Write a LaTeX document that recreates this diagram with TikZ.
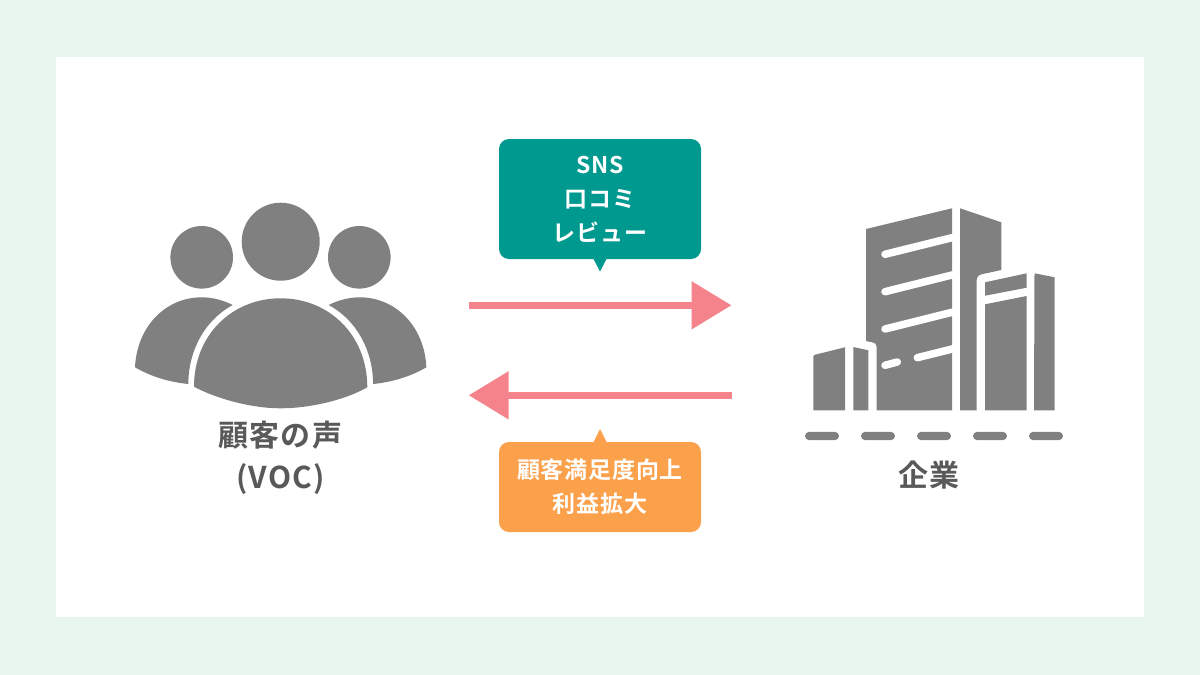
\documentclass[tikz,border=0pt]{standalone}
\usepackage{fontspec}
\usetikzlibrary{arrows.meta}
\newfontfamily\jpfont[LetterSpace=3.5]{Noto Sans CJK JP Bold}
\definecolor{bgmint}{HTML}{E9F6F0}
\definecolor{tealbox}{HTML}{00998F}
\definecolor{orangebox}{HTML}{FBA14B}
\definecolor{pinkarrow}{HTML}{F5838B}
\definecolor{icongrey}{HTML}{808080}
\definecolor{labelgrey}{HTML}{595959}
\tikzset{
  x=1pt,y=-1pt,
  icon/.style={fill=icongrey,draw=none},
  slit/.style={draw=white,line width=7.5pt,line cap=round},
  dashbar/.style={fill=icongrey,draw=none,rounded corners=4.1pt},
  flow/.style={draw=pinkarrow,line width=7.3pt,-{Triangle[length=40pt,width=46.4pt]}},
  bubbletext/.style={text=white,align=center,inner sep=0pt,font=\jpfont\fontsize{23}{34}\selectfont},
  bigtext/.style={text=labelgrey,align=center,inner sep=0pt,font=\jpfont\fontsize{30}{42}\selectfont},
}
\begin{document}
\begin{tikzpicture}
\useasboundingbox (0,0) rectangle (1200,675);
\fill[bgmint] (0,0) rectangle (1200,675);
\fill[white] (56,57) rectangle (1144,617);
% people
\fill[icon] (280.7,241.7) circle[radius=39];
\fill[icon] (201.7,257.3) circle[radius=31.3];
\fill[icon] (359.3,257.3) circle[radius=31.3];
\fill[icon] (194,386.7) .. controls (194,335) and (232,298.3) .. (280.7,298.3)
  .. controls (329,298.3) and (367.3,335) .. (367.3,387.3)
  .. controls (345,400) and (310,408.3) .. (280.7,408.3)
  .. controls (250,408.3) and (215,398) .. (194,386.7) -- cycle;
\fill[icon] (135,367.3) .. controls (137,326) and (166,297.3) .. (201.7,297.3)
  .. controls (213,297.3) and (224,300.5) .. (232.7,305)
  .. controls (205,320) and (188.5,350) .. (188.3,384)
  .. controls (168,382) and (150,376) .. (135,367.3) -- cycle;
\fill[icon] (426.4,367.3) .. controls (424.4,326) and (395.4,297.3) .. (359.7,297.3)
  .. controls (348.4,297.3) and (337.4,300.5) .. (328.7,305)
  .. controls (356.4,320) and (372.9,350) .. (373.1,384)
  .. controls (393.4,382) and (411.4,376) .. (426.4,367.3) -- cycle;
% building
\fill[icon] (866,229) -- (952,208.3) -- (952,410.3) -- (876.7,410.3) -- (876.7,347)
  .. controls (876.7,344) and (875,342.8) .. (872,342.2) -- (866,341) -- cycle;
\draw[slit] (885,254.3) -- (956,236.7);
\draw[slit] (885,291.7) -- (956,274);
\draw[slit] (885,329) -- (956,311.3);
\draw[slit] (885,365.3) -- (897.3,362);
\draw[slit] (917.3,357.7) -- (956,348);
\fill[icon] (960,208.3) -- (1001.3,222.3) -- (1001.3,270) -- (982,274.2)
  .. controls (978.5,275) and (976.7,277) .. (976.7,280.5) -- (976.7,410.3) -- (960,410.3) -- cycle;
\fill[icon] (985,282.3) -- (1026.7,273.3) -- (1026.7,287.7) -- (985,295.7) -- cycle;
\fill[icon] (985,304.3) -- (1026.7,296) -- (1026.7,410.3) -- (985,410.3) -- cycle;
\fill[icon] (1034.5,273.3) -- (1054.7,277.3) -- (1054.7,410.3) -- (1034,410.3) -- cycle;
\fill[icon] (813.3,357) .. controls (813.3,355.6) and (814,355) .. (815.5,354.6) -- (845,347.3) -- (845,410.3) -- (813.3,410.3) -- cycle;
\fill[icon] (853.3,347) -- (868.3,350.3) -- (868.3,410.3) -- (853.3,410.3) -- cycle;
% ground dashes
\fill[dashbar] (805,431.9) rectangle (839,440.1);
\fill[dashbar] (861,431.9) rectangle (895,440.1);
\fill[dashbar] (917,431.9) rectangle (951,440.1);
\fill[dashbar] (973,431.9) rectangle (1007,440.1);
\fill[dashbar] (1029,431.9) rectangle (1063,440.1);
% arrows
\coordinate (topstart) at (468.7,305.3);
\coordinate (topend) at (731.5,305.3);
\coordinate (botstart) at (731.5,395.3);
\coordinate (botend) at (468.7,395.3);
\draw[flow] (topstart) -- (topend);
\draw[flow] (botstart) -- (botend);
% bubbles
\fill[tealbox,rounded corners=10pt] (499,139) rectangle (701,259);
\fill[tealbox] (593,258) -- (607,258) -- (600,271.5) -- cycle;
\fill[orangebox,rounded corners=10pt] (499,442) rectangle (701,532);
\fill[orangebox] (593,443) -- (607,443) -- (600,429) -- cycle;
% labels
\node[bubbletext] (media) at (600,199) {SNS\\口コミ\\レビュー};
\node[bubbletext] (gain) at (600,487) {顧客満足度向上\\利益拡大};
\node[bigtext] (voc) at (280.5,457.5) {顧客の声\\(VOC)};
\node[bigtext] (firm) at (929,475) {企業};
\end{tikzpicture}
\end{document}
